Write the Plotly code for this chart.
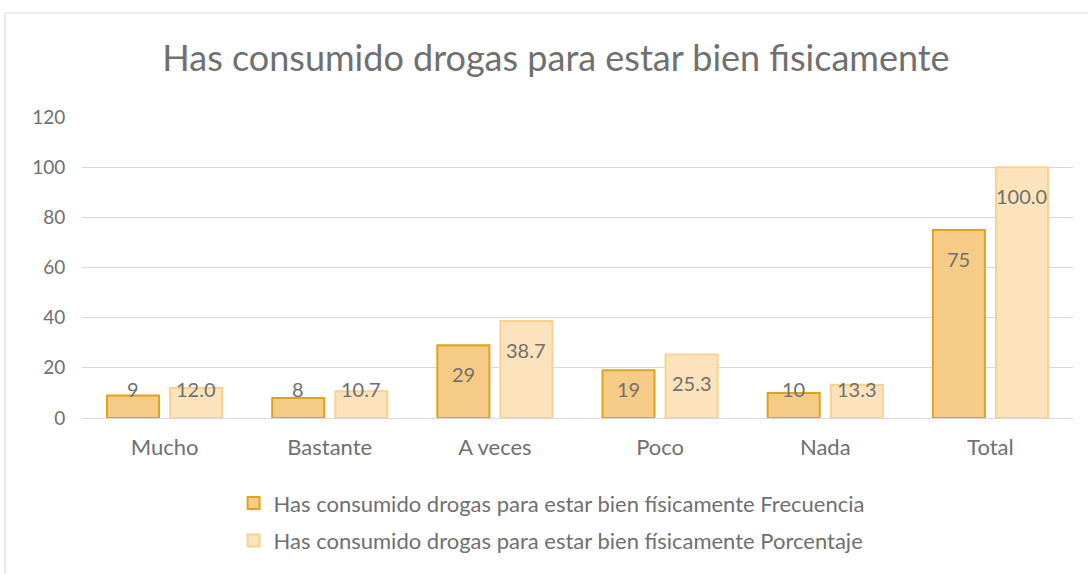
import plotly.graph_objects as go

categories = ["Mucho", "Bastante", "A veces", "Poco", "Nada", "Total"]
frecuencia = [9, 8, 29, 19, 10, 75]
porcentaje = [12.0, 10.7, 38.7, 25.3, 13.3, 100.0]
freq_labels = ["9", "8", "29", "19", "10", "75"]
pct_labels = ["12.0", "10.7", "38.7", "25.3", "13.3", "100.0"]
name_freq = "Has consumido drogas para estar bien físicamente Frecuencia"
name_pct = "Has consumido drogas para estar bien físicamente Porcentaje"
title = "Has consumido drogas para estar bien fisicamente"

FONT = "Lato"
GRAY = "#707070"

fig = go.Figure()
fig.add_trace(go.Bar(
    x=categories, y=frecuencia, name=name_freq, offsetgroup="f", legendgroup="f",
    marker=dict(color="#F6CB86", line=dict(color="#DDA51F", width=2)),
))
fig.add_trace(go.Bar(
    x=categories, y=porcentaje, name=name_pct, offsetgroup="p", legendgroup="p",
    marker=dict(color="#FDE3BC", line=dict(color="#F8D28E", width=2)),
))

# data labels (inside end, clamped like the spreadsheet)
for i, c in enumerate(categories):
    for vals, labs, off in ((frecuencia, freq_labels, -0.5), (porcentaje, pct_labels, 0.5)):
        v = vals[i]
        fig.add_annotation(
            x=c, y=max(v - 11.5, 11.5), text=labs[i], showarrow=False,
            xref="x", yref="y", xshift=off * 63,
            font=dict(family=FONT, size=20, color=GRAY), yanchor="middle",
        )

fig.add_shape(type="rect", xref="paper", yref="paper",
              x0=-0.0777, x1=1.02, y0=-0.7, y1=1.3455,
              line=dict(color="#D9D9D9", width=1), fillcolor="rgba(0,0,0,0)", layer="below")

fig.update_layout(
    width=1088, height=574,
    margin=dict(l=82, r=15, t=117, b=156, autoexpand=False),
    paper_bgcolor="white", plot_bgcolor="white",
    bargap=0.236, bargroupgap=0.175,
    title=dict(text=title, x=0.511, xanchor="center", y=0.899, yanchor="middle",
               font=dict(family=FONT, size=36, color=GRAY)),
    font=dict(family=FONT, color=GRAY, size=18),
    xaxis=dict(showgrid=False, showline=True, linecolor="#D9D9D9", linewidth=1,
               ticks="", ticklabelstandoff=10,
               tickfont=dict(family=FONT, size=22, color=GRAY)),
    yaxis=dict(range=[0, 120], dtick=20, showgrid=True, gridcolor="#D9D9D9", gridwidth=1,
               zeroline=False, showline=False, ticks="outside", ticklen=12, tickcolor="white",
               tickfont=dict(family=FONT, size=19, color=GRAY)),
    legend=dict(x=0.153, y=0.16, yref="container", xanchor="left", yanchor="top",
                orientation="v",
                font=dict(family=FONT, size=22, color=GRAY), tracegroupgap=6,
                traceorder="grouped"),
)

fig.write_html("out.html", config={"displayModeBar": False},
               post_script="document.body.style.margin='0';")
